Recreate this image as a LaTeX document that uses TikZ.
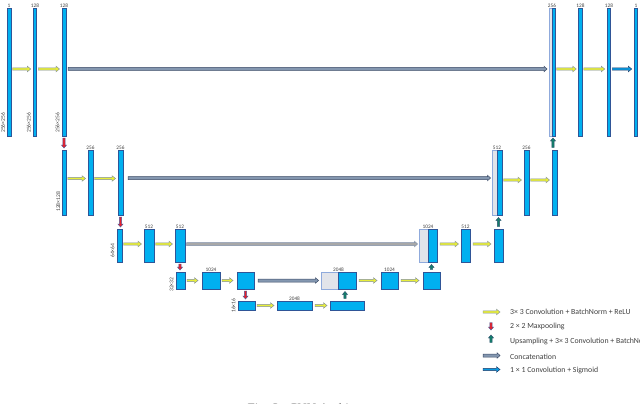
\documentclass[tikz,border=0pt]{standalone}
\usepackage{fontspec}
\setmainfont{Carlito}
\newfontfamily\capfont{Liberation Serif}
\usetikzlibrary{calc}
\definecolor{barfill}{HTML}{00B0F0}
\definecolor{bardraw}{HTML}{2F5597}
\definecolor{grayfill}{HTML}{E2E4EA}
\definecolor{graydraw}{HTML}{8FAADC}
\definecolor{convfill}{HTML}{E8EE3A}
\definecolor{convdraw}{HTML}{7F8C9E}
\definecolor{poolfill}{HTML}{E8202A}
\definecolor{pooldraw}{HTML}{4A5A9A}
\definecolor{upfill}{HTML}{12806A}
\definecolor{updraw}{HTML}{2F5070}
\definecolor{catfill}{HTML}{8497B0}
\definecolor{catdraw}{HTML}{3A4A66}
\definecolor{catgfill}{HTML}{A8A8A8}
\definecolor{catgdraw}{HTML}{7F8FA9}
\definecolor{finfill}{HTML}{0A9AE0}
\definecolor{findraw}{HTML}{1F3864}
\definecolor{labcol}{HTML}{404040}
\tikzset{
  blk/.style n args={3}{to path={let \p1=(\tikztostart),\p2=(\tikztotarget),\n1={atan2(\y2-\y1,\x2-\x1)} in
     ($(\p1)+({\n1+90}:#1)$) -- ($(\p2)+(\n1:-#3)+({\n1+90}:#1)$) -- ($(\p2)+(\n1:-#3)+({\n1+90}:#2)$) -- (\p2)
     -- ($(\p2)+(\n1:-#3)+({\n1-90}:#2)$) -- ($(\p2)+(\n1:-#3)+({\n1-90}:#1)$) -- ($(\p1)+({\n1-90}:#1)$) -- cycle}},
  conv/.style={blk={1.1pt}{2.8pt}{3.5pt}, fill=convfill, draw=convdraw, line width=0.45pt},
  pool/.style={blk={1.1pt}{2.6pt}{3pt}, fill=poolfill, draw=pooldraw, line width=0.45pt},
  upc/.style={blk={1.1pt}{2.6pt}{3pt}, fill=upfill, draw=updraw, line width=0.45pt},
  cat/.style={blk={1.5pt}{2.8pt}{3pt}, fill=catfill, draw=catdraw, line width=0.5pt},
  catg/.style={blk={1.5pt}{2.8pt}{3pt}, fill=catgfill, draw=catgdraw, line width=0.5pt},
  fin/.style={blk={1.2pt}{2.8pt}{3.5pt}, fill=finfill, draw=findraw, line width=0.45pt},
  bar/.style={draw=bardraw, fill=barfill, line width=0.6pt, inner sep=0pt, outer sep=0pt},
  gbar/.style={draw=graydraw, fill=grayfill, line width=0.6pt, inner sep=0pt, outer sep=0pt},
  lv1/.style={minimum height=128pt},
  lv2/.style={minimum height=65pt},
  lv3/.style={minimum height=33pt},
  lv4/.style={minimum height=17pt},
  lv5/.style={minimum height=9pt},
  blabel/.style={font=\fontsize{5.3}{5.3}\selectfont, text=labcol, inner sep=0.6pt},
  vlab/.style={font=\fontsize{5.6}{5.6}\selectfont, text=labcol, inner sep=0pt, rotate=90, anchor=south west},
  legtext/.style={font=\fontsize{7.8}{7.8}\selectfont, text=labcol, anchor=west, inner sep=0pt},
}
\begin{document}
\begin{tikzpicture}[x=1pt,y=-1pt]
\useasboundingbox (0,0) rectangle (640,404);
% ---------- level 1
\node[bar,lv1,minimum width=4pt,label={[blabel]above:1}] (L1a) at (9,72) {};
\node[bar,lv1,minimum width=3.5pt,label={[blabel]above:128}] (L1b) at (35,72) {};
\node[bar,lv1,minimum width=4pt,label={[blabel]above:128}] (L1c) at (64,72) {};
\node[gbar,lv1,minimum width=3pt] (L1dg) at (550.5,72) {};
\node[bar,lv1,minimum width=3pt] (L1db) at (553.5,72) {};
\node[blabel,anchor=south] (L1dl) at (L1dg.north east) {256};
\node[bar,lv1,minimum width=3.5pt,label={[blabel]above:128}] (L1e) at (580.5,72) {};
\node[bar,lv1,minimum width=3.5pt,label={[blabel]above:128}] (L1f) at (609,72) {};
\node[bar,lv1,minimum width=3.5pt,label={[blabel]above:1}] (L1g) at (636,72) {};
% ---------- level 2
\node[bar,lv2,minimum width=3.5pt] (L2a) at (64.5,182.5) {};
\node[bar,lv2,minimum width=5pt,label={[blabel]above:256}] (L2b) at (90.5,182.5) {};
\node[bar,lv2,minimum width=5pt,label={[blabel]above:256}] (L2c) at (120.5,182.5) {};
\node[gbar,lv2,minimum width=5pt] (L2dg) at (494.5,182.5) {};
\node[bar,lv2,minimum width=5pt] (L2db) at (499.5,182.5) {};
\node[blabel,anchor=south] (L2dl) at (L2dg.north east) {512};
\node[bar,lv2,minimum width=5pt,label={[blabel]above:256}] (L2e) at (526.5,182.5) {};
\node[bar,lv2,minimum width=5pt] (L2f) at (554.5,182.5) {};
% ---------- level 3
\node[bar,lv3,minimum width=5pt] (L3a) at (119.5,245.5) {};
\node[bar,lv3,minimum width=10pt,label={[blabel]above:512}] (L3b) at (149,245.5) {};
\node[bar,lv3,minimum width=10pt,label={[blabel]above:512}] (L3c) at (180,245.5) {};
\node[gbar,lv3,minimum width=9pt] (L3dg) at (423.5,245.5) {};
\node[bar,lv3,minimum width=9pt] (L3db) at (432.5,245.5) {};
\node[blabel,anchor=south] (L3dl) at (L3dg.north east) {1024};
\node[bar,lv3,minimum width=9pt,label={[blabel]above:512}] (L3e) at (465.5,245.5) {};
\node[bar,lv3,minimum width=9pt] (L3f) at (498.5,245.5) {};
% ---------- level 4
\node[bar,lv4,minimum width=9pt] (L4a) at (180.5,280.5) {};
\node[bar,lv4,minimum width=18pt,label={[blabel]above:1024}] (L4b) at (211,280.5) {};
\node[bar,lv4,minimum width=17pt] (L4c) at (245.5,280.5) {};
\node[gbar,lv4,minimum width=17.5pt] (L4dg) at (329.75,280.5) {};
\node[bar,lv4,minimum width=17.5pt] (L4db) at (347.25,280.5) {};
\node[blabel,anchor=south] (L4dl) at (L4dg.north east) {2048};
\node[bar,lv4,minimum width=17pt,label={[blabel]above:1024}] (L4e) at (389.5,280.5) {};
\node[bar,lv4,minimum width=17pt] (L4f) at (431.5,280.5) {};
% ---------- level 5
\node[bar,lv5,minimum width=17pt] (L5a) at (246.5,305.5) {};
\node[bar,lv5,minimum width=35pt,label={[blabel]above:2048}] (L5b) at (294.5,305.5) {};
\node[bar,lv5,minimum width=34pt] (L5c) at (347,305.5) {};
% ---------- size labels
\node[vlab] (s1a) at ([xshift=-2pt,yshift=3pt]L1a.south west) {256×256};
\node[vlab] (s1b) at ([xshift=-2.5pt,yshift=3pt]L1b.south west) {256×256};
\node[vlab] (s1c) at ([xshift=-2.5pt,yshift=3pt]L1c.south west) {256×256};
\node[vlab] (s2a) at ([xshift=-2.5pt,yshift=3pt]L2a.south west) {128×128};
\node[vlab] (s3a) at ([xshift=-2.5pt,yshift=4pt]L3a.south west) {64×64};
\node[vlab] (s4a) at ([xshift=-2.5pt,yshift=-3pt]L4a.south west) {32×32};
\node[vlab] (s5a) at ([xshift=-2.5pt,yshift=-3pt]L5a.south west) {16×16};
% ---------- conv arrows
\path[conv] ([xshift=1.5pt,yshift=3pt]L1a.east) to ([xshift=-2.5pt,yshift=3pt]L1b.west);
\path[conv] ([xshift=1.5pt,yshift=3pt]L1b.east) to ([xshift=-2.5pt,yshift=3pt]L1c.west);
\path[conv] ([xshift=1.5pt,yshift=3pt]L1db.east) to ([xshift=-2.5pt,yshift=3pt]L1e.west);
\path[conv] ([xshift=1.5pt,yshift=3pt]L1e.east) to ([xshift=-2.5pt,yshift=3pt]L1f.west);
\path[fin] ([xshift=1.5pt,yshift=3pt]L1f.east) to ([xshift=-2.5pt,yshift=3pt]L1g.west);
\path[conv] ([xshift=1.5pt,yshift=4pt]L2a.east) to ([xshift=-2.5pt,yshift=4pt]L2b.west);
\path[conv] ([xshift=1.5pt,yshift=4pt]L2b.east) to ([xshift=-2.5pt,yshift=4pt]L2c.west);
\path[conv] ([xshift=1.5pt,yshift=2.5pt]L2db.east) to ([xshift=-2.5pt,yshift=2.5pt]L2e.west);
\path[conv] ([xshift=1.5pt,yshift=2.5pt]L2e.east) to ([xshift=-2.5pt,yshift=2.5pt]L2f.west);
\path[conv] ([xshift=1.5pt,yshift=1.5pt]L3a.east) to ([xshift=-2.5pt,yshift=1.5pt]L3b.west);
\path[conv] ([xshift=1.5pt,yshift=1.5pt]L3b.east) to ([xshift=-2.5pt,yshift=1.5pt]L3c.west);
\path[conv] ([xshift=3pt,yshift=1.5pt]L3db.east) to ([xshift=-2.5pt,yshift=1.5pt]L3e.west);
\path[conv] ([xshift=3pt,yshift=1.5pt]L3e.east) to ([xshift=-3pt,yshift=1.5pt]L3f.west);
\path[conv] ([xshift=2pt]L4a.east) to ([xshift=-4pt]L4b.west);
\path[conv] ([xshift=2pt]L4b.east) to ([xshift=-4pt]L4c.west);
\path[conv] ([xshift=3pt]L4db.east) to ([xshift=-4pt]L4e.west);
\path[conv] ([xshift=3pt]L4e.east) to ([xshift=-4pt]L4f.west);
\path[conv] ([xshift=2pt]L5a.east) to ([xshift=-3pt]L5b.west);
\path[conv] ([xshift=3pt]L5b.east) to ([xshift=-3pt]L5c.west);
% ---------- concatenations
\path[cat] ([xshift=2pt,yshift=3pt]L1c.east) to ([xshift=-2pt,yshift=3pt]L1dg.west);
\path[cat] ([xshift=5pt,yshift=4.5pt]L2c.east) to ([xshift=-1.5pt,yshift=4.5pt]L2dg.west);
\path[catg] ([xshift=1.5pt,yshift=1.5pt]L3c.east) to ([xshift=-1.5pt,yshift=1.5pt]L3dg.west);
\path[cat] ([xshift=4pt]L4c.east) to ([xshift=-2.5pt]L4dg.west);
% ---------- maxpooling
\path[pool] ([yshift=-2pt]L1c.south) to ([yshift=2pt]L1c.south |- L2a.north);
\path[pool] ([yshift=-2pt]L2c.south) to ([yshift=2pt]L2c.south |- L3a.north);
\path[pool] ([yshift=-2pt]L3c.south) to ([yshift=2pt]L3c.south |- L4a.north);
\path[pool] ([yshift=-2pt]L4c.south) to ([yshift=2pt]L4c.south |- L5a.north);
% ---------- upsampling
\path[upc] ([yshift=2.5pt,xshift=-2pt]L5c.north) to ([yshift=-2.5pt,xshift=-2pt]L5c.north |- L4dg.south);
\path[upc] ([yshift=2.5pt]L4f.north) to ([yshift=-2.5pt]L4f.north |- L3dg.south);
\path[upc] ([yshift=2.5pt]L3f.north) to ([yshift=-2.5pt]L3f.north |- L2dg.south);
\path[upc] ([yshift=2.5pt,xshift=-1.5pt]L2f.north) to ([yshift=-2pt,xshift=-1.5pt]L2f.north |- L1dg.south);
% ---------- legend
\coordinate (k1a) at (483,312); \coordinate (k1b) at (500,312);
\coordinate (k2a) at (491,322.5); \coordinate (k2b) at (491,330);
\coordinate (k3a) at (491,342.5); \coordinate (k3b) at (491,335);
\coordinate (k4a) at (483,355.5); \coordinate (k4b) at (500,355.5);
\coordinate (k5a) at (483,369.5); \coordinate (k5b) at (500,369.5);
\path[conv] (k1a) to (k1b);
\path[pool] (k2a) to (k2b);
\path[upc] (k3a) to (k3b);
\path[cat] (k4a) to (k4b);
\path[fin] (k5a) to (k5b);
\node[legtext] (t1) at (510,312) {3× 3 Convolution + BatchNorm + ReLU};
\node[legtext] (t2) at (510,326.5) {2 × 2 Maxpooling};
\node[legtext] (t3) at (510,341) {Upsampling + 3× 3  Convolution + BatchNorm + ReLU};
\node[legtext] (t4) at (510,356.5) {Concatenation};
\node[legtext] (t5) at (510,370.5) {1 × 1 Convolution + Sigmoid};
% ---------- caption (cut by the page edge)
\node[font=\capfont\fontsize{13}{13}\selectfont, text=gray, anchor=base, inner sep=0pt] (cap) at (316,412.5) {Fig. 2.\ \ CNN Architecture};
\end{tikzpicture}
\end{document}
